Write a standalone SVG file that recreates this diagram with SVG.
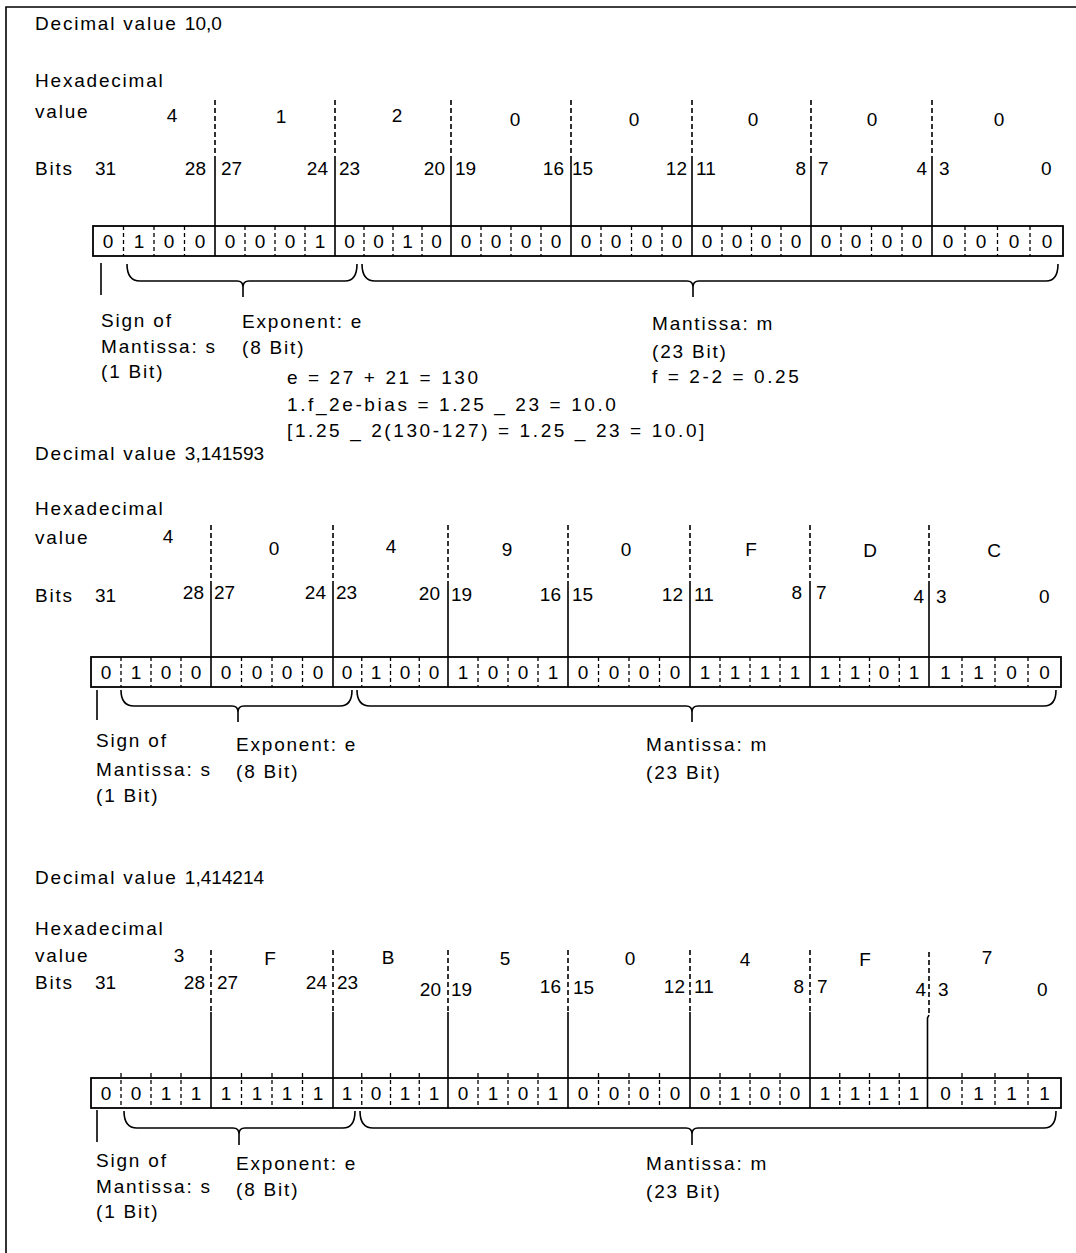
<svg xmlns="http://www.w3.org/2000/svg" width="1076" height="1253" viewBox="0 0 1076 1253">
<style>
text{font-family:"Liberation Sans",Arial,sans-serif;font-size:19px;fill:#000}
.l{letter-spacing:1.8px}
.n{letter-spacing:0}
.f{letter-spacing:2.6px}
.m{text-anchor:middle}
.e{text-anchor:end}
.ln{stroke:#000;stroke-width:1.6;fill:none}
.d{stroke:#000;stroke-width:1.6;stroke-dasharray:5 3;fill:none}
.s{stroke:#000;stroke-width:1.3;stroke-dasharray:4 3;fill:none}
.box{fill:#fff;stroke:#000;stroke-width:1.8}
</style>
<rect width="1076" height="1253" fill="#fff"/>
<g id="frame"><path class="ln" d="M6,1253 V7 H1076" stroke-width="2"/></g>

<g id="section1">
<g id="s1-labels">
<text class="l" x="35" y="30">Decimal value <tspan class="n">10,0</tspan></text>
<text class="l" x="35" y="87">Hexadecimal</text>
<text class="l" x="35" y="118">value</text>
<text class="m" x="172" y="122">4</text><text class="m" x="281" y="123">1</text><text class="m" x="397" y="122">2</text><text class="m" x="515" y="126">0</text><text class="m" x="634" y="126">0</text><text class="m" x="753" y="126">0</text><text class="m" x="872" y="126">0</text><text class="m" x="999" y="126">0</text>
<text class="l" x="35" y="175">Bits</text>
<text x="95" y="175">31</text><text class="e" x="206" y="175">28</text><text x="221" y="175">27</text><text class="e" x="328" y="175">24</text><text x="339" y="175">23</text><text class="e" x="445" y="175">20</text><text x="455" y="175">19</text><text class="e" x="564" y="175">16</text><text x="572" y="175">15</text><text class="e" x="687" y="175">12</text><text x="696" y="175">11</text><text class="e" x="806" y="175">8</text><text x="818" y="175">7</text><text class="e" x="927" y="175">4</text><text x="939" y="175">3</text><text x="1041" y="175">0</text>
</g>
<g id="s1-register">
<rect class="box" x="93" y="226" width="970" height="30"/>
<path class="d" d="M215,100V158M335,100V158M451,100V158M571,100V158M692,100V158M811,100V158M932,100V158"/>
<path class="ln" d="M215,158V256M335,158V256M451,158V256M571,158V256M692,158V256M811,158V256M932,158V256"/>
<path class="s" d="M123.5,226V256M154,226V256M184.5,226V256M245,226V256M275,226V256M305,226V256M364,226V256M393,226V256M422,226V256M481,226V256M511,226V256M541,226V256M601,226V256M631.5,226V256M662,226V256M722,226V256M751.5,226V256M781,226V256M841,226V256M871.5,226V256M902,226V256M965,226V256M997.5,226V256M1030,226V256"/>
<g class="bits">
<text class="m" x="108" y="248">0</text><text class="m" x="139" y="248">1</text><text class="m" x="169" y="248">0</text><text class="m" x="200" y="248">0</text>
<text class="m" x="230" y="248">0</text><text class="m" x="260" y="248">0</text><text class="m" x="290" y="248">0</text><text class="m" x="320" y="248">1</text>
<text class="m" x="349.5" y="248">0</text><text class="m" x="378.5" y="248">0</text><text class="m" x="407.5" y="248">1</text><text class="m" x="436.5" y="248">0</text>
<text class="m" x="466" y="248">0</text><text class="m" x="496" y="248">0</text><text class="m" x="526" y="248">0</text><text class="m" x="556" y="248">0</text>
<text class="m" x="586" y="248">0</text><text class="m" x="616" y="248">0</text><text class="m" x="647" y="248">0</text><text class="m" x="677" y="248">0</text>
<text class="m" x="707" y="248">0</text><text class="m" x="737" y="248">0</text><text class="m" x="766" y="248">0</text><text class="m" x="796" y="248">0</text>
<text class="m" x="826" y="248">0</text><text class="m" x="856" y="248">0</text><text class="m" x="887" y="248">0</text><text class="m" x="917" y="248">0</text>
<text class="m" x="948" y="248">0</text><text class="m" x="981" y="248">0</text><text class="m" x="1014" y="248">0</text><text class="m" x="1047" y="248">0</text>
</g>
</g>
<g id="s1-braces">
<path class="ln" d="M101,263V295"/>
<path class="ln" d="M127,264Q127,281 140,281H237Q243,281 243,287V297M243,287Q243,281 249,281H345Q357,281 357,264"/>
<path class="ln" d="M362,264Q362,281 375,281H687Q693,281 693,287V297M693,287Q693,281 699,281H1046Q1058,281 1058,264"/>
</g>
<g id="s1-fields">
<text class="l" x="101" y="327">Sign of</text>
<text class="l" x="101" y="353">Mantissa: s</text>
<text class="l" x="101" y="378">(1 Bit)</text>
<text class="l" x="242" y="328">Exponent: e</text>
<text class="l" x="242" y="354">(8 Bit)</text>
<text class="l" x="652" y="330">Mantissa: m</text>
<text class="l" x="652" y="358">(23 Bit)</text>
<text class="f" x="652" y="383">f = 2-2 = 0.25</text>
<text class="f" x="287" y="384">e = 27 + 21 = 130</text>
<text class="f" x="287" y="411">1.f_2e-bias = 1.25 _ 23 = 10.0</text>
<text class="f" x="287" y="437">[1.25 _ 2(130-127) = 1.25 _ 23 = 10.0]</text>
</g>
</g>

<g id="section2">
<g id="s2-labels">
<text class="l" x="35" y="460">Decimal value <tspan class="n">3,141593</tspan></text>
<text class="l" x="35" y="515">Hexadecimal</text>
<text class="l" x="35" y="544">value</text>
<text class="m" x="168" y="543">4</text><text class="m" x="274" y="555">0</text><text class="m" x="391" y="553">4</text><text class="m" x="507" y="556">9</text><text class="m" x="626" y="556">0</text><text class="m" x="751" y="556">F</text><text class="m" x="870" y="557">D</text><text class="m" x="994" y="557">C</text>
<text class="l" x="35" y="602">Bits</text>
<text x="95" y="602">31</text><text class="e" x="204" y="599">28</text><text x="214" y="599">27</text><text class="e" x="326" y="599">24</text><text x="336" y="599">23</text><text class="e" x="440" y="600">20</text><text x="451" y="601">19</text><text class="e" x="561" y="601">16</text><text x="572" y="601">15</text><text class="e" x="683" y="601">12</text><text x="694" y="601">11</text><text class="e" x="802" y="599">8</text><text x="816" y="599">7</text><text class="e" x="924" y="603">4</text><text x="936" y="603">3</text><text x="1039" y="603">0</text>
</g>
<g id="s2-register">
<rect class="box" x="91" y="657" width="970" height="30"/>
<path class="d" d="M211,525V583M333,525V583M448,525V583M568,525V583M690,525V583M810,525V583M929,525V583"/>
<path class="ln" d="M211,583V687M333,583V687M448,583V687M568,583V687M690,583V687M810,583V687M929,583V687"/>
<path class="s" d="M121,657V687M151,657V687M181,657V687M241.5,657V687M272,657V687M302.5,657V687M361.75,657V687M390.5,657V687M419.25,657V687M478,657V687M508,657V687M538,657V687M598.5,657V687M629,657V687M659.5,657V687M720,657V687M750,657V687M780,657V687M839.75,657V687M869.5,657V687M899.25,657V687M962,657V687M995,657V687M1028,657V687"/>
<g class="bits">
<text class="m" x="106" y="679">0</text><text class="m" x="136" y="679">1</text><text class="m" x="166" y="679">0</text><text class="m" x="196" y="679">0</text>
<text class="m" x="226" y="679">0</text><text class="m" x="257" y="679">0</text><text class="m" x="287" y="679">0</text><text class="m" x="318" y="679">0</text>
<text class="m" x="347" y="679">0</text><text class="m" x="376" y="679">1</text><text class="m" x="405" y="679">0</text><text class="m" x="434" y="679">0</text>
<text class="m" x="463" y="679">1</text><text class="m" x="493" y="679">0</text><text class="m" x="523" y="679">0</text><text class="m" x="553" y="679">1</text>
<text class="m" x="583" y="679">0</text><text class="m" x="614" y="679">0</text><text class="m" x="644" y="679">0</text><text class="m" x="675" y="679">0</text>
<text class="m" x="705" y="679">1</text><text class="m" x="735" y="679">1</text><text class="m" x="765" y="679">1</text><text class="m" x="795" y="679">1</text>
<text class="m" x="825" y="679">1</text><text class="m" x="855" y="679">1</text><text class="m" x="884" y="679">0</text><text class="m" x="914" y="679">1</text>
<text class="m" x="945.5" y="679">1</text><text class="m" x="978.5" y="679">1</text><text class="m" x="1011.5" y="679">0</text><text class="m" x="1044.5" y="679">0</text>
</g>
</g>
<g id="s2-braces">
<path class="ln" d="M97,690V720"/>
<path class="ln" d="M121,690Q121,706 134,706H232Q238,706 238,712V722M238,712Q238,706 244,706H340Q352,706 352,690"/>
<path class="ln" d="M357,690Q357,706 370,706H686Q692,706 692,712V722M692,712Q692,706 698,706H1044Q1056,706 1056,690"/>
</g>
<g id="s2-fields">
<text class="l" x="96" y="747">Sign of</text>
<text class="l" x="96" y="776">Mantissa: s</text>
<text class="l" x="96" y="802">(1 Bit)</text>
<text class="l" x="236" y="751">Exponent: e</text>
<text class="l" x="236" y="778">(8 Bit)</text>
<text class="l" x="646" y="751">Mantissa: m</text>
<text class="l" x="646" y="779">(23 Bit)</text>
</g>
</g>

<g id="section3">
<g id="s3-labels">
<text class="l" x="35" y="884">Decimal value <tspan class="n">1,414214</tspan></text>
<text class="l" x="35" y="935">Hexadecimal</text>
<text class="l" x="35" y="962">value</text>
<text class="m" x="179" y="962">3</text><text class="m" x="270" y="965">F</text><text class="m" x="388" y="964">B</text><text class="m" x="505" y="965">5</text><text class="m" x="630" y="965">0</text><text class="m" x="745" y="966">4</text><text class="m" x="865" y="966">F</text><text class="m" x="987" y="964">7</text>
<text class="l" x="35" y="989">Bits</text>
<text x="95" y="989">31</text><text class="e" x="205" y="989">28</text><text x="217" y="989">27</text><text class="e" x="327" y="989">24</text><text x="337" y="989">23</text><text class="e" x="441" y="996">20</text><text x="451" y="996">19</text><text class="e" x="561" y="993">16</text><text x="573" y="994">15</text><text class="e" x="685" y="993">12</text><text x="694" y="993">11</text><text class="e" x="804" y="993">8</text><text x="817" y="993">7</text><text class="e" x="926" y="996">4</text><text x="938" y="996">3</text><text x="1037" y="996">0</text>
</g>
<g id="s3-register">
<rect class="box" x="91" y="1078" width="970" height="30"/>
<path class="d" d="M211,950V1012M333,950V1012M448,950V1012M568,950V1012M690,950V1012M810,950V1012M929,952V1015"/>
<path class="ln" d="M211,1012V1108M333,1012V1108M448,1012V1108M568,1012V1108M690,1012V1108M810,1012V1108M929,1015L927.5,1018V1108"/>
<path class="s" d="M121,1073V1108M151,1073V1108M181,1073V1108M241.5,1073V1108M272,1073V1108M302.5,1073V1108M361.75,1073V1108M390.5,1073V1108M419.25,1073V1108M478,1073V1108M508,1073V1108M538,1073V1108M598.5,1073V1108M629,1073V1108M659.5,1073V1108M720,1073V1108M750,1073V1108M780,1073V1108M839.75,1073V1108M869.5,1073V1108M899.25,1073V1108M962,1073V1108M995,1073V1108M1028,1073V1108"/>
<g class="bits">
<text class="m" x="106" y="1100">0</text><text class="m" x="136" y="1100">0</text><text class="m" x="166" y="1100">1</text><text class="m" x="196" y="1100">1</text>
<text class="m" x="226" y="1100">1</text><text class="m" x="257" y="1100">1</text><text class="m" x="287" y="1100">1</text><text class="m" x="318" y="1100">1</text>
<text class="m" x="347" y="1100">1</text><text class="m" x="376" y="1100">0</text><text class="m" x="405" y="1100">1</text><text class="m" x="434" y="1100">1</text>
<text class="m" x="463" y="1100">0</text><text class="m" x="493" y="1100">1</text><text class="m" x="523" y="1100">0</text><text class="m" x="553" y="1100">1</text>
<text class="m" x="583" y="1100">0</text><text class="m" x="614" y="1100">0</text><text class="m" x="644" y="1100">0</text><text class="m" x="675" y="1100">0</text>
<text class="m" x="705" y="1100">0</text><text class="m" x="735" y="1100">1</text><text class="m" x="765" y="1100">0</text><text class="m" x="795" y="1100">0</text>
<text class="m" x="825" y="1100">1</text><text class="m" x="855" y="1100">1</text><text class="m" x="884" y="1100">1</text><text class="m" x="914" y="1100">1</text>
<text class="m" x="945.5" y="1100">0</text><text class="m" x="978.5" y="1100">1</text><text class="m" x="1011.5" y="1100">1</text><text class="m" x="1044.5" y="1100">1</text>
</g>
</g>
<g id="s3-braces">
<path class="ln" d="M97,1110V1142"/>
<path class="ln" d="M124,1111Q124,1128 137,1128H233Q239,1128 239,1134V1145M239,1134Q239,1128 245,1128H343Q355,1128 355,1111"/>
<path class="ln" d="M360,1111Q360,1128 373,1128H686Q692,1128 692,1134V1145M692,1134Q692,1128 698,1128H1044Q1056,1128 1056,1111"/>
</g>
<g id="s3-fields">
<text class="l" x="96" y="1167">Sign of</text>
<text class="l" x="96" y="1193">Mantissa: s</text>
<text class="l" x="96" y="1218">(1 Bit)</text>
<text class="l" x="236" y="1170">Exponent: e</text>
<text class="l" x="236" y="1196">(8 Bit)</text>
<text class="l" x="646" y="1170">Mantissa: m</text>
<text class="l" x="646" y="1198">(23 Bit)</text>
</g>
</g>
</svg>
